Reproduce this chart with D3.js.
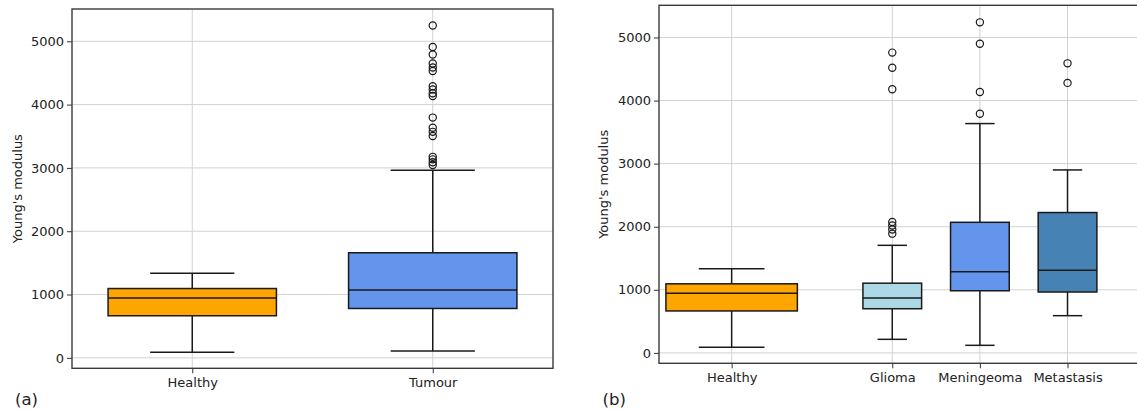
<!DOCTYPE html>
<html>
<head>
<meta charset="utf-8">
<script src="https://cdn.jsdelivr.net/npm/d3@7"></script>
<style>
  html, body { margin: 0; padding: 0; background: #fff; }
  svg { display: block; font-family: "DejaVu Sans", sans-serif; }
</style>
</head>
<body>
<svg id="chart" width="1137" height="410"></svg>
<script>
// ---------------- data ----------------
const categoriesA = ["Healthy", "Tumour"];
const categoriesB = ["Healthy", "Glioma", "Meningeoma", "Metastasis"];
const yTicks = [0, 1000, 2000, 3000, 4000, 5000];
// [lower whisker, Q1, median, Q3, upper whisker]
const healthyStats    = [90, 665, 945, 1095, 1335];
const tumourStats     = [110, 780, 1070, 1660, 2965];
const gliomaStats     = [215, 700, 870, 1105, 1705];
const meningeomaStats = [120, 985, 1285, 2070, 3635];
const metastasisStats = [590, 965, 1310, 2225, 2900];
const healthyOutliers    = [];
const tumourOutliers     = [5250, 4910, 4790, 4650, 4585, 4530, 4290, 4240, 4180, 4135, 3795, 3635, 3570, 3505, 3175, 3135, 3090, 3045];
const gliomaOutliers     = [4760, 4520, 4180, 2075, 2020, 1955, 1890];
const meningeomaOutliers = [5240, 4900, 4135, 3790];
const metastasisOutliers = [4590, 4280];
const yLabel = "Young's modulus";

// ---------------- styles / layout ----------------
const colors = {
  Healthy: "#FFA500", Tumour: "#6495ED",
  Glioma: "#ADD8E6", Meningeoma: "#6495ED", Metastasis: "#4682B4"
};
const svg = d3.select("#chart");

function panel(cfg) {
  const g = svg.append("g");
  const x = d3.scaleLinear().domain(cfg.xDomain).range([cfg.left, cfg.right]);
  const y = d3.scaleLinear().domain([-165, 5510]).range([cfg.bottom, cfg.top]);
  const pos = c => x(cfg.positions[c]);

  const clipId = "clip" + cfg.id;
  svg.append("clipPath").attr("id", clipId).append("rect")
    .attr("x", cfg.left).attr("y", cfg.top)
    .attr("width", cfg.right - cfg.left).attr("height", cfg.bottom - cfg.top);

  const grid = g.append("g").attr("clip-path", `url(#${clipId})`);
  grid.selectAll("line.h").data(yTicks).join("line")
    .attr("x1", cfg.left).attr("x2", cfg.right)
    .attr("y1", d => y(d)).attr("y2", d => y(d))
    .attr("stroke", "#d2d2d2").attr("stroke-width", 1);
  grid.selectAll("line.v").data(cfg.categories).join("line")
    .attr("x1", d => pos(d)).attr("x2", d => pos(d))
    .attr("y1", cfg.top).attr("y2", cfg.bottom)
    .attr("stroke", "#d2d2d2").attr("stroke-width", 1);

  const boxes = g.append("g");
  cfg.categories.forEach(c => {
    const s = cfg.stats[c];
    const cx = pos(c);
    const w = x(cfg.xDomain[0] + cfg.widths[c]) - x(cfg.xDomain[0]);
    const b = boxes.append("g");
    const stroke = "#1a1a1a";
    b.append("line").attr("x1", cx).attr("x2", cx).attr("y1", y(s[0])).attr("y2", y(s[1]))
      .attr("stroke", stroke).attr("stroke-width", 1.5);
    b.append("line").attr("x1", cx).attr("x2", cx).attr("y1", y(s[3])).attr("y2", y(s[4]))
      .attr("stroke", stroke).attr("stroke-width", 1.5);
    [s[0], s[4]].forEach(v => {
      b.append("line").attr("x1", cx - w / 4).attr("x2", cx + w / 4)
        .attr("y1", y(v)).attr("y2", y(v)).attr("stroke", stroke).attr("stroke-width", 1.5);
    });
    b.append("rect").attr("x", cx - w / 2).attr("width", w)
      .attr("y", y(s[3])).attr("height", y(s[1]) - y(s[3]))
      .attr("fill", colors[c]).attr("stroke", stroke).attr("stroke-width", 1.5);
    b.append("line").attr("x1", cx - w / 2).attr("x2", cx + w / 2)
      .attr("y1", y(s[2])).attr("y2", y(s[2])).attr("stroke", stroke).attr("stroke-width", 1.5);
    b.selectAll("circle").data(cfg.outliers[c]).join("circle")
      .attr("cx", cx).attr("cy", d => y(d)).attr("r", 3.6)
      .attr("fill", "none").attr("stroke", stroke).attr("stroke-width", 1.2);
  });

  const yAxis = d3.axisLeft(y).tickValues(yTicks).tickFormat(d3.format("d"))
    .tickSize(5).tickPadding(3);
  const ya = g.append("g").attr("transform", `translate(${cfg.left},0)`).call(yAxis);
  const xAxis = d3.axisBottom(x).tickValues(cfg.categories.map(c => cfg.positions[c]))
    .tickFormat((d, i) => cfg.categories[i]).tickSize(5).tickPadding(4);
  const xa = g.append("g").attr("transform", `translate(0,${cfg.bottom})`).call(xAxis);
  [ya, xa].forEach(a => {
    a.select(".domain").remove();
    a.selectAll("line").attr("stroke", "#333").attr("stroke-width", 1);
    a.selectAll("text").attr("font-size", 13).attr("fill", "#222")
      .attr("font-family", "DejaVu Sans, sans-serif");
  });

  g.append("rect").attr("x", cfg.left).attr("y", cfg.top)
    .attr("width", cfg.right - cfg.left).attr("height", cfg.bottom - cfg.top)
    .attr("fill", "none").attr("stroke", "#3a3a3a").attr("stroke-width", 1.4);

  g.append("text")
    .attr("transform", `translate(${cfg.yLabelX},${(cfg.top + cfg.bottom) / 2}) rotate(-90)`)
    .attr("text-anchor", "middle").attr("dominant-baseline", "central")
    .attr("font-size", 13).attr("fill", "#222").text(yLabel);

  g.append("text").attr("x", cfg.letterX).attr("y", 405)
    .attr("font-size", 16.5).attr("fill", "#222").text(cfg.letter);
}

panel({
  id: "a", letter: "(a)", letterX: 15,
  categories: categoriesA,
  positions: { Healthy: 1, Tumour: 2 },
  widths: { Healthy: 0.7, Tumour: 0.7 },
  stats: { Healthy: healthyStats, Tumour: tumourStats },
  outliers: { Healthy: healthyOutliers, Tumour: tumourOutliers },
  xDomain: [0.5, 2.5],
  left: 72, right: 553, top: 9, bottom: 368.3, yLabelX: 17
});

panel({
  id: "b", letter: "(b)", letterX: 602.5,
  categories: categoriesB,
  positions: { Healthy: 1, Glioma: 2.833, Meningeoma: 3.833, Metastasis: 4.833 },
  widths: { Healthy: 1.5, Glioma: 0.67, Meningeoma: 0.67, Metastasis: 0.67 },
  stats: { Healthy: healthyStats, Glioma: gliomaStats, Meningeoma: meningeomaStats, Metastasis: metastasisStats },
  outliers: { Healthy: healthyOutliers, Glioma: gliomaOutliers, Meningeoma: meningeomaOutliers, Metastasis: metastasisOutliers },
  xDomain: [0.171, 5.66],
  left: 659, right: 1140, top: 5.3, bottom: 363.3, yLabelX: 603.5
});
</script>
</body>
</html>
